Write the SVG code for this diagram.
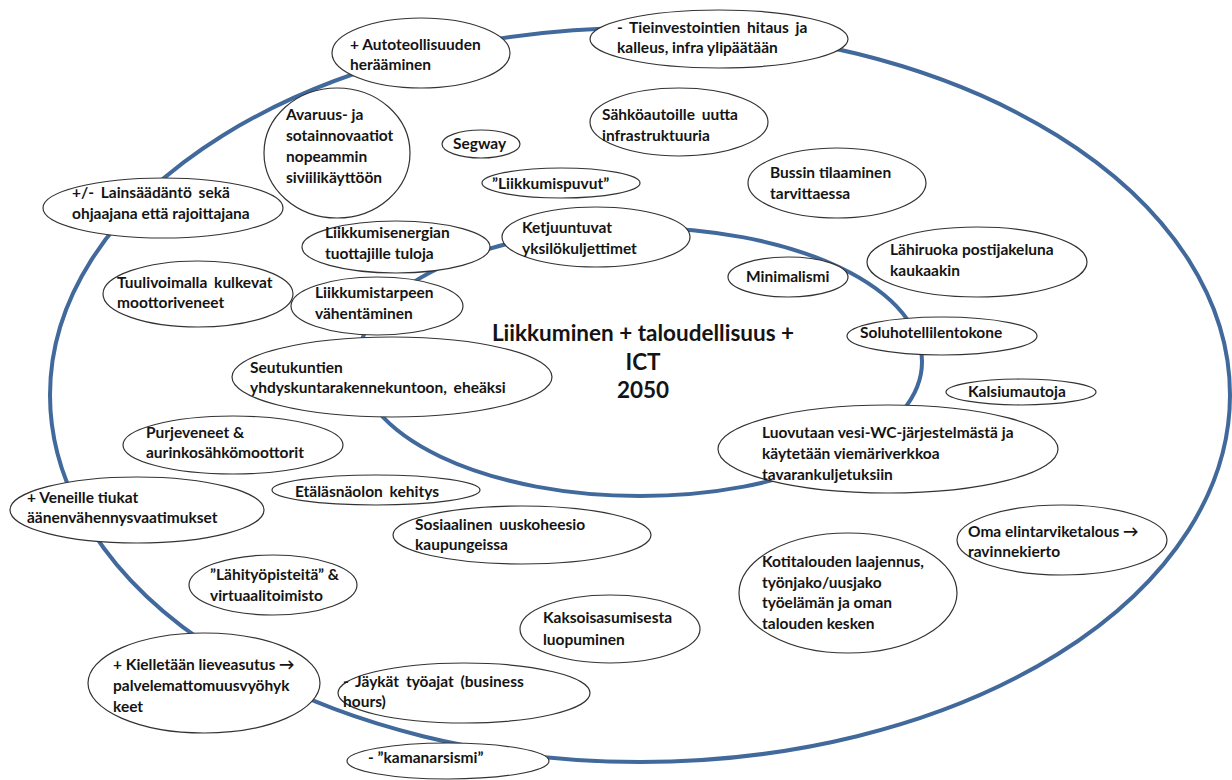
<svg xmlns="http://www.w3.org/2000/svg" width="1232" height="780" viewBox="0 0 1232 780">
<style>
.ring{fill:none;stroke:#41699b;stroke-width:4}
.node ellipse{fill:#fff;stroke:#333;stroke-width:1.2}
.t{font-family:Lato,"Liberation Sans",sans-serif;font-size:15.5px;font-weight:bold;fill:#141414}
.w{word-spacing:3px}
.c{font-family:Lato,"Liberation Sans",sans-serif;font-size:22.5px;font-weight:bold;fill:#141414;text-anchor:middle}
</style>
<rect width="1232" height="780" fill="#fff"/>
<g id="connectors">
<ellipse class="ring" cx="640" cy="395" rx="590" ry="367"/>
<ellipse class="ring" cx="640" cy="362" rx="282" ry="134"/>
</g>
<g id="center"><text class="c" x="643" y="341">Liikkuminen + taloudellisuus +</text><text class="c" x="643" y="370">ICT</text><text class="c" x="643" y="398">2050</text></g>
<g id="n1" class="node"><ellipse cx="421" cy="53" rx="89" ry="35"/><text class="t" x="350" y="50">+ Autoteollisuuden</text><text class="t" x="350" y="70">herääminen</text></g>
<g id="n2" class="node"><ellipse cx="719" cy="39" rx="129" ry="29"/><text class="t w" x="617" y="33">- Tieinvestointien hitaus ja</text><text class="t" x="617" y="53">kalleus, infra ylipäätään</text></g>
<g id="n3" class="node"><ellipse cx="337" cy="153" rx="73" ry="65"/><text class="t" x="286" y="120">Avaruus- ja</text><text class="t" x="286" y="141">sotainnovaatiot</text><text class="t" x="286" y="162">nopeammin</text><text class="t" x="286" y="183">siviilikäyttöön</text></g>
<g id="n4" class="node"><ellipse cx="481" cy="144" rx="39" ry="14"/><text class="t" x="453" y="149">Segway</text></g>
<g id="n5" class="node"><ellipse cx="561" cy="183" rx="79" ry="15"/><text class="t" x="492" y="189">”Liikkumispuvut”</text></g>
<g id="n6" class="node"><ellipse cx="679" cy="122" rx="89" ry="34"/><text class="t w" x="602" y="120">Sähköautoille uutta</text><text class="t" x="602" y="141">infrastruktuuria</text></g>
<g id="n7" class="node"><ellipse cx="837" cy="183" rx="89" ry="35"/><text class="t" x="770" y="178">Bussin tilaaminen</text><text class="t" x="770" y="199">tarvittaessa</text></g>
<g id="n8" class="node"><ellipse cx="596" cy="237" rx="94" ry="30"/><text class="t" x="522" y="233">Ketjuuntuvat</text><text class="t" x="522" y="254">yksilökuljettimet</text></g>
<g id="n9" class="node"><ellipse cx="163" cy="208" rx="120" ry="30"/><text class="t w" x="72" y="198">+/- Lainsäädäntö sekä</text><text class="t" x="72" y="219">ohjaajana että rajoittajana</text></g>
<g id="n10" class="node"><ellipse cx="396" cy="247" rx="94" ry="26"/><text class="t" x="325" y="238">Liikkumisenergian</text><text class="t" x="325" y="259">tuottajille tuloja</text></g>
<g id="n11" class="node"><ellipse cx="198" cy="294" rx="95" ry="33"/><text class="t w" x="117" y="288">Tuulivoimalla kulkevat</text><text class="t" x="117" y="308">moottoriveneet</text></g>
<g id="n12" class="node"><ellipse cx="377" cy="306" rx="86" ry="29"/><text class="t" x="315" y="298">Liikkumistarpeen</text><text class="t" x="315" y="319">vähentäminen</text></g>
<g id="n13" class="node"><ellipse cx="392" cy="377" rx="160" ry="40"/><text class="t" x="250" y="373">Seutukuntien</text><text class="t w" x="250" y="393">yhdyskuntarakennekuntoon, eheäksi</text></g>
<g id="n14" class="node"><ellipse cx="788" cy="277" rx="60" ry="20"/><text class="t" x="746" y="282">Minimalismi</text></g>
<g id="n15" class="node"><ellipse cx="977" cy="262" rx="110" ry="35"/><text class="t" x="890" y="255">Lähiruoka postijakeluna</text><text class="t" x="890" y="276">kaukaakin</text></g>
<g id="n16" class="node"><ellipse cx="942" cy="336" rx="95" ry="19"/><text class="t" x="860" y="338">Soluhotellilentokone</text></g>
<g id="n17" class="node"><ellipse cx="1021" cy="392" rx="75" ry="13"/><text class="t" x="968" y="397">Kalsiumautoja</text></g>
<g id="n18" class="node"><ellipse cx="888" cy="449" rx="170" ry="44"/><text class="t" x="762" y="438">Luovutaan vesi-WC-järjestelmästä ja</text><text class="t" x="762" y="459">käytetään viemäriverkkoa</text><text class="t" x="762" y="480">tavarankuljetuksiin</text></g>
<g id="n19" class="node"><ellipse cx="233" cy="445" rx="110" ry="29"/><text class="t" x="146" y="438">Purjeveneet &amp;</text><text class="t" x="146" y="458">aurinkosähkömoottorit</text></g>
<g id="n20" class="node"><ellipse cx="376" cy="490" rx="104" ry="15"/><text class="t w" x="295" y="497">Etäläsnäolon kehitys</text></g>
<g id="n21" class="node"><ellipse cx="137" cy="510" rx="127" ry="33"/><text class="t" x="27" y="503">+ Veneille tiukat</text><text class="t" x="27" y="523">äänenvähennysvaatimukset</text></g>
<g id="n22" class="node"><ellipse cx="522" cy="535" rx="129" ry="29"/><text class="t w" x="415" y="530">Sosiaalinen uuskoheesio</text><text class="t" x="415" y="550">kaupungeissa</text></g>
<g id="n23" class="node"><ellipse cx="273" cy="585" rx="84" ry="30"/><text class="t" x="210" y="580">”Lähityöpisteitä” &amp;</text><text class="t" x="210" y="601">virtuaalitoimisto</text></g>
<g id="n24" class="node"><ellipse cx="610" cy="629" rx="90" ry="34"/><text class="t" x="543" y="623">Kaksoisasumisesta</text><text class="t" x="543" y="645">luopuminen</text></g>
<g id="n25" class="node"><ellipse cx="848" cy="593" rx="109" ry="60"/><text class="t" x="762" y="567">Kotitalouden laajennus,</text><text class="t" x="762" y="588">työnjako/uusjako</text><text class="t" x="762" y="608">työelämän ja oman</text><text class="t" x="762" y="629">talouden kesken</text></g>
<g id="n26" class="node"><ellipse cx="1062" cy="540" rx="105" ry="35"/><text class="t" x="968" y="537">Oma elintarviketalous →</text><text class="t" x="968" y="557">ravinnekierto</text></g>
<g id="n27" class="node"><ellipse cx="204" cy="683" rx="116" ry="50"/><text class="t" x="113" y="670">+ Kielletään lieveasutus →</text><text class="t" x="113" y="691">palvelemattomuusvyöhyk</text><text class="t" x="113" y="712">keet</text></g>
<g id="n28" class="node"><ellipse cx="464" cy="693" rx="126" ry="30"/><text class="t w" x="343" y="687">- Jäykät työajat (business</text><text class="t" x="343" y="707">hours)</text></g>
<g id="n29" class="node"><ellipse cx="448" cy="761" rx="101" ry="18"/><text class="t" x="368" y="763">- ”kamanarsismi”</text></g>
</svg>
